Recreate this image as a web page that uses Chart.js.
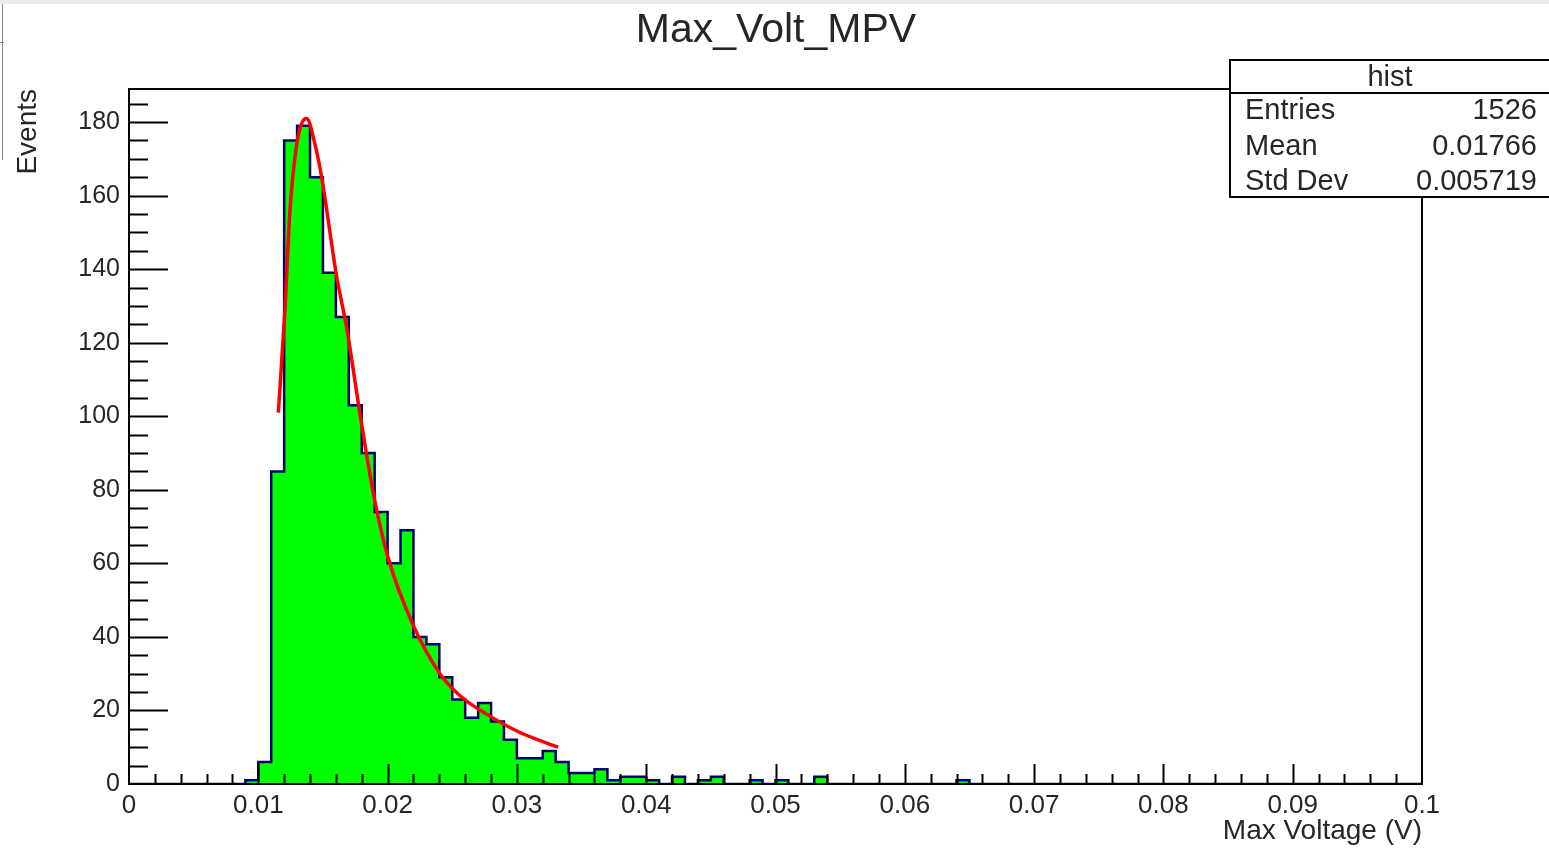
<!DOCTYPE html>
<html>
<head>
<meta charset="utf-8">
<title>Max_Volt_MPV</title>
<script src="https://cdn.jsdelivr.net/npm/chart.js@4.4.1/dist/chart.umd.min.js"></script>
<style>
  html, body { margin: 0; padding: 0; background: #fff; }
  #wrap { position: relative; width: 1549px; height: 848px; overflow: hidden; }
  #topStrip { position: absolute; left: 0; top: 0; width: 1549px; height: 4px; background: #ebebeb; }
  #sideFrame { position: absolute; left: 2px; top: 4px; width: 1px; height: 156px; background: #8a8a8a; }
  #sideTick { position: absolute; left: 0; top: 42px; width: 4px; height: 1px; background: #8a8a8a; }
  canvas { position: absolute; left: 0; top: 0; }
</style>
</head>
<body>
<div id="wrap">
  <canvas id="chart" width="1549" height="848"></canvas>
  <div id="topStrip"></div>
  <div id="sideFrame"></div>
  <div id="sideTick"></div>
</div>
<script>
// histogram: 100 bins of width 0.001 V from 0 to 0.1 V
const binLow = 0
const binWidth = 0.001
const counts = [
  0, 0, 0, 0, 0, 0, 0, 0, 0, 1,
  6, 85, 175, 179, 165, 139, 127, 103, 90, 74,
  60, 69, 40, 38, 29, 23, 18, 22, 17, 12,
  7, 7, 9, 6, 3, 3, 4, 1, 2, 2,
  1, 0, 2, 0, 1, 2, 0, 0, 1, 0,
  1, 0, 0, 2, 0, 0, 0, 0, 0, 0,
  0, 0, 0, 0, 1, 0, 0, 0, 0, 0,
  0, 0, 0, 0, 0, 0, 0, 0, 0, 0,
  0, 0, 0, 0, 0, 0, 0, 0, 0, 0,
  0, 0, 0, 0, 0, 0, 0, 0, 0, 0,
]

// landau fit
const fitX = [0.01155, 0.01206, 0.01245, 0.01297, 0.01340, 0.01374, 0.01438, 0.01490, 0.01606, 0.01684,
  0.01785, 0.01890, 0.02000, 0.02200, 0.02405, 0.02560, 0.02766, 0.03024, 0.03320]
const fitY = [101, 129, 156, 174, 180, 181, 174, 165, 138, 124,
  101, 79, 62, 43, 30, 24, 19, 14, 10]

const chartTitle = "Max_Volt_MPV"
const statsTitle = "hist"
const statsLabels = ["Entries", "Mean", "Std Dev"]
const statsValues = ["1526", "0.01766", "0.005719"]

const xMin = 0, xMax = 0.1, xMajor = 0.01, xMinor = 0.002
const yMin = 0, yMax = 189, yMajor = 20, yMinor = 5

const FONT = "'Liberation Sans', Arial, Helvetica, sans-serif"
const TEXT = "#262626"

const histPoints = counts.map((c, i) => ({ x: binLow + i * binWidth, y: c }))
histPoints.push({ x: binLow + counts.length * binWidth, y: 0 })
const fitPoints = fitX.map((x, i) => ({ x, y: fitY[i] }))

const frameAndTicks = {
  id: "frameAndTicks",
  afterDatasetsDraw(chart) {
    const { ctx, chartArea: a, scales: { x, y } } = chart
    ctx.save()
    ctx.strokeStyle = "#000"
    ctx.lineWidth = 2
    ctx.beginPath()
    for (let v = yMin + yMinor; v <= yMax; v += yMinor) {
      const py = Math.round(y.getPixelForValue(v)) + 0.5
      const len = (v % yMajor === 0) ? 39 : 19
      ctx.moveTo(a.left, py)
      ctx.lineTo(a.left + len, py)
    }
    const nX = Math.round((xMax - xMin) / xMinor)
    const perMajor = Math.round(xMajor / xMinor)
    for (let i = 1; i < nX; i++) {
      const px = Math.round(x.getPixelForValue(xMin + i * xMinor)) + 0.5
      const len = (i % perMajor === 0) ? 20 : 10
      ctx.moveTo(px, a.bottom)
      ctx.lineTo(px, a.bottom - len)
    }
    ctx.stroke()
    ctx.strokeRect(a.left, a.top, a.right - a.left, a.bottom - a.top)
    ctx.restore()
  },
}

const titleAndStats = {
  id: "titleAndStats",
  afterDraw(chart) {
    const { ctx } = chart
    ctx.save()
    ctx.fillStyle = TEXT
    ctx.font = `41px ${FONT}`
    ctx.textAlign = "center"
    ctx.textBaseline = "middle"
    ctx.fillText(chartTitle, 776, 31)

    const left = 1230, top = 60, right = 1552, bottom = 197, headBottom = 93
    ctx.fillStyle = "#fff"
    ctx.fillRect(left, top, right - left, bottom - top)
    ctx.strokeStyle = "#000"
    ctx.lineWidth = 2
    ctx.strokeRect(left, top, right - left, bottom - top)
    ctx.beginPath()
    ctx.moveTo(left, headBottom)
    ctx.lineTo(right, headBottom)
    ctx.stroke()
    ctx.fillStyle = TEXT
    ctx.font = `29px ${FONT}`
    ctx.textAlign = "center"
    ctx.fillText(statsTitle, 1390, 78)
    const rowY = [111, 147, 182]
    statsLabels.forEach((label, i) => {
      ctx.textAlign = "left"
      ctx.fillText(label, 1245, rowY[i])
      ctx.textAlign = "right"
      ctx.fillText(statsValues[i], 1537, rowY[i])
    })
    ctx.restore()
  },
}

new Chart(document.getElementById("chart"), {
  type: "line",
  data: {
    datasets: [
      {
        label: "hist",
        data: histPoints,
        stepped: "before",
        fill: "origin",
        backgroundColor: "#00ff00",
        borderColor: "#00006e",
        borderWidth: 2.5,
        pointRadius: 0,
        order: 2,
      },
      {
        label: "fit",
        data: fitPoints,
        fill: false,
        borderColor: "#ff0000",
        borderWidth: 3.5,
        cubicInterpolationMode: "monotone",
        pointRadius: 0,
        order: 1,
      },
    ],
  },
  options: {
    responsive: false,
    animation: false,
    devicePixelRatio: 1,
    layout: { padding: { left: 0, right: 127, top: 89, bottom: 0 } },
    plugins: {
      legend: { display: false },
      tooltip: { enabled: false },
      title: { display: false },
    },
    scales: {
      x: {
        type: "linear",
        min: xMin,
        max: xMax,
        grid: { display: false, drawTicks: false },
        border: { display: false },
        ticks: {
          stepSize: xMajor,
          padding: 6,
          color: TEXT,
          maxRotation: 0,
          autoSkip: false,
          font: { family: FONT, size: 26 },
          callback: (v) => String(Number(v.toFixed(3))),
        },
        title: {
          display: true,
          text: "Max Voltage (V)",
          align: "end",
          color: TEXT,
          font: { family: FONT, size: 28 },
          padding: { top: 0, bottom: 0 },
        },
        afterFit: (scale) => { scale.height = 64 },
      },
      y: {
        type: "linear",
        min: yMin,
        max: yMax,
        grid: { display: false, drawTicks: false },
        border: { display: false },
        ticks: {
          stepSize: yMajor,
          padding: 9,
          color: TEXT,
          font: { family: FONT, size: 25 },
          callback: (v) => (v % yMajor === 0 ? String(v) : null),
        },
        title: {
          display: true,
          text: "Events",
          align: "end",
          color: TEXT,
          font: { family: FONT, size: 28 },
          padding: { top: 11, bottom: 0 },
        },
        afterFit: (scale) => { scale.width = 129 },
      },
    },
  },
  plugins: [frameAndTicks, titleAndStats],
})
</script>
</body>
</html>
